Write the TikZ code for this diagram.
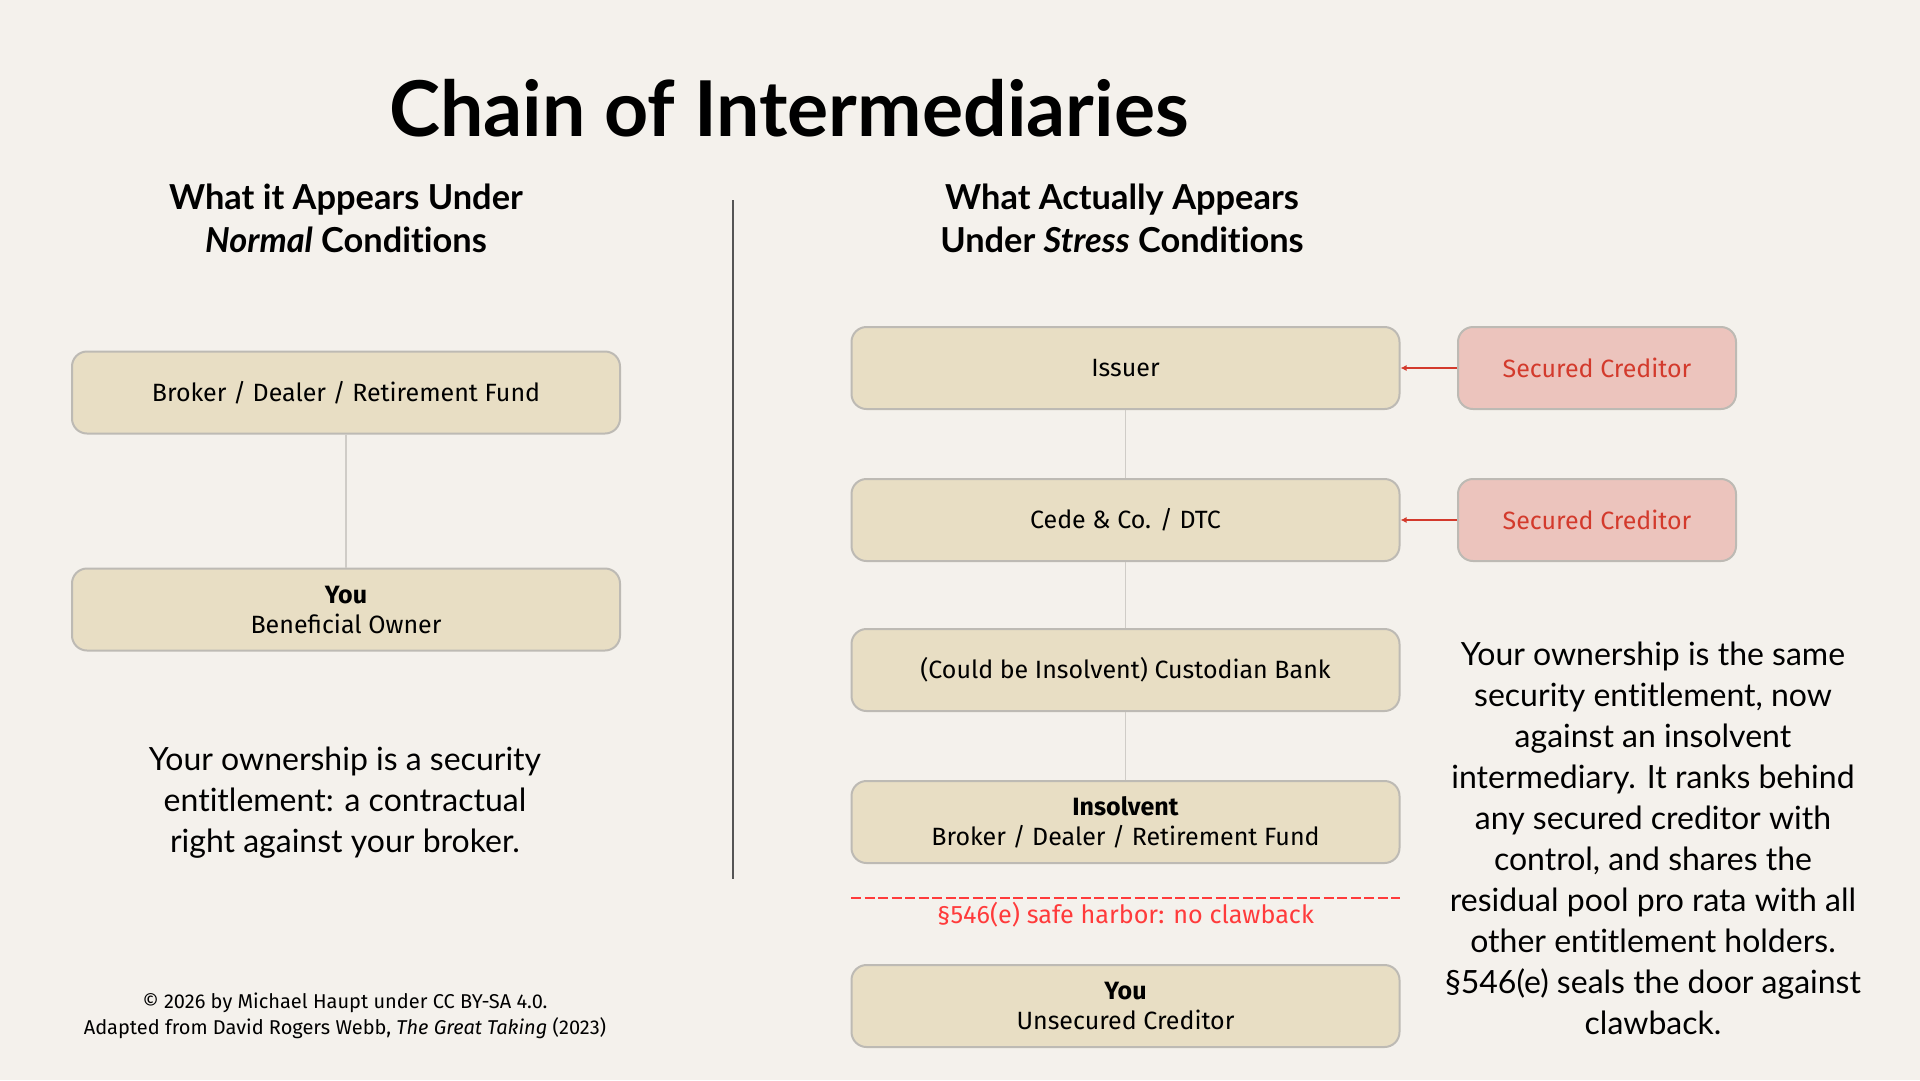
\documentclass[tikz,border=0pt]{standalone}
\usepackage{fontspec}
\setmainfont{Lato}[Ligatures=NoCommon]
\newfontfamily\boxfont{Fira Sans}
\usetikzlibrary{arrows.meta}
\definecolor{bg}{HTML}{F4F1EC}
\definecolor{boxfill}{HTML}{E8DEC4}
\definecolor{boxline}{HTML}{BDBAB4}
\definecolor{scfill}{HTML}{ECC4BD}
\definecolor{sctext}{HTML}{D33A2C}
\definecolor{conncol}{HTML}{CFCCC7}
\definecolor{harbor}{HTML}{FF3B3B}
\definecolor{divcol}{HTML}{555555}
\tikzset{
  chainbox/.style={draw=boxline, line width=2pt, fill=boxfill, rounded corners=15pt,
    minimum width=548pt, minimum height=82pt, inner sep=0pt, align=center,
    font=\boxfont\fontsize{25}{30}\selectfont, text=black},
  credbox/.style={chainbox, fill=scfill, minimum width=278pt, text=sctext},
  conn/.style={draw=conncol, line width=1.5pt},
  redarrow/.style={draw=sctext, line width=2pt, -{Latex[length=6pt,width=6pt]}},
  heading/.style={align=center, font=\bfseries\fontsize{34.4}{43}\selectfont},
  bodytext/.style={align=center, font=\fontsize{32}{41}\selectfont},
}
\begin{document}
\begin{tikzpicture}[x=1pt,y=-1pt]
\useasboundingbox (0,0) rectangle (1920,1080);
\fill[bg] (0,0) rectangle (1920,1080);

\node[font=\bfseries\fontsize{77}{80}\selectfont] (title) at (789,108) {Chain of Intermediaries};

\node[heading] (hl) at (346,218) {What it Appears Under\\\textit{Normal} Conditions};
\node[heading] (hr) at (1122,218) {What Actually Appears\\Under \textit{Stress} Conditions};

\coordinate (dtop) at (733,200);
\coordinate (dbot) at (733,879);
\draw[divcol, line width=1.5pt] (dtop) -- (dbot);

% left chain
\node[chainbox] (lb) at (346,392.5) {Broker / Dealer / Retirement Fund};
\node[chainbox] (ly) at (346,609.5) {\textbf{You}\\Beneficial Owner};
\draw[conn] (lb) -- (ly);

\node[bodytext] (lt) at (345,803) {Your ownership is a security\\entitlement: a contractual\\right against your broker.};

\node[align=center, font=\boxfont\fontsize{20}{26}\selectfont] (foot) at (345,1016)
  {© 2026 by Michael Haupt under CC BY-SA 4.0.\\Adapted from David Rogers Webb, \textit{The Great Taking} (2023)};

% right chain
\node[chainbox] (iss) at (1125.5,368) {Issuer};
\node[chainbox] (cede) at (1125.5,520) {Cede \& Co. / DTC};
\node[chainbox] (cust) at (1125.5,670) {(Could be Insolvent) Custodian Bank};
\node[chainbox] (ins) at (1125.5,822) {\textbf{Insolvent}\\Broker / Dealer / Retirement Fund};
\node[chainbox] (you) at (1125.5,1006) {\textbf{You}\\Unsecured Creditor};
\draw[conn] (iss) -- (cede);
\draw[conn] (cede) -- (cust);
\draw[conn] (cust) -- (ins);

\node[credbox] (sc1) at (1597,368) {Secured Creditor};
\node[credbox] (sc2) at (1597,520) {Secured Creditor};
\draw[redarrow] (sc1.west) -- (iss.east);
\draw[redarrow] (sc2.west) -- (cede.east);

\coordinate (dl) at (851,898);
\coordinate (dr) at (1400,898);
\draw[harbor, line width=2pt, dash pattern=on 10pt off 3.5pt] (dl) -- (dr);
\node[text=harbor, font=\boxfont\fontsize{25.2}{30}\selectfont] (harb) at (1125.5,915) {§546(e) safe harbor: no clawback};

\node[bodytext] (rt) at (1653,838) {Your ownership is the same\\security entitlement, now\\against an insolvent\\intermediary. It ranks behind\\any secured creditor with\\control, and shares the\\residual pool pro rata with all\\other entitlement holders.\\§546(e) seals the door against\\clawback.};
\end{tikzpicture}
\end{document}
